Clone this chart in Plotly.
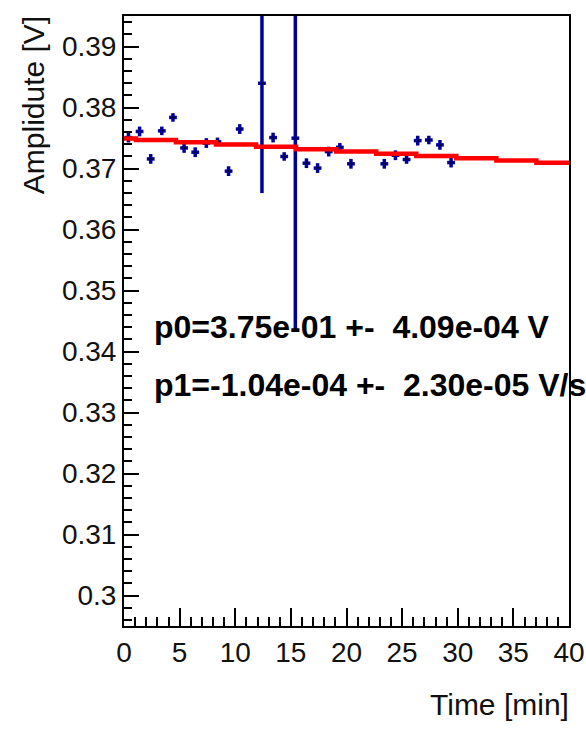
import numpy as np
import plotly.graph_objects as go

# Measured amplitude vs. time
time_min = [0.4, 1.4, 2.4, 3.4, 4.4, 5.4, 6.4, 7.4, 8.4, 9.4, 10.4,
            12.4, 13.4, 14.4, 15.4, 16.4, 17.4, 18.4, 19.4, 20.4,
            23.4, 24.4, 25.4, 26.4, 27.4, 28.4, 29.4]
amplitude_v = [0.3751, 0.3761, 0.3716, 0.3762, 0.3784, 0.3734, 0.3727, 0.3742, 0.3744, 0.3696, 0.3765,
               0.3840, 0.3751, 0.3720, 0.3750, 0.3709, 0.3701, 0.3728, 0.3735, 0.3708,
               0.3708, 0.3722, 0.3715, 0.3746, 0.3747, 0.3739, 0.3710]
amplitude_err = [0.0008, 0.0008, 0.0008, 0.0007, 0.0007, 0.0008, 0.0008, 0.0008, 0.0007, 0.0008, 0.0008,
                 0.0180, 0.0008, 0.0007, 0.0317, 0.0008, 0.0008, 0.0008, 0.0007, 0.0008,
                 0.0008, 0.0008, 0.0007, 0.0008, 0.0007, 0.0008, 0.0008]
time_err = [0.35] * len(time_min)

# Linear fit result: A(t) = p0 + p1 * t
p0, p0_err = 3.75e-01, 4.09e-04
p1, p1_err = -1.04e-04, 2.30e-05

x_ticks = [0, 5, 10, 15, 20, 25, 30, 35, 40]
y_ticks = [0.30, 0.31, 0.32, 0.33, 0.34, 0.35, 0.36, 0.37, 0.38, 0.39]
y_tick_text = ["0.3", "0.31", "0.32", "0.33", "0.34", "0.35", "0.36", "0.37", "0.38", "0.39"]

# Fit function drawn as a coarse polyline (stepped like a low-npx TF1)
edges = np.concatenate([[0.0], np.arange(1.07, 40.0, 3.6), [40.0]])
mids = 0.5 * (edges[:-1] + edges[1:])
fit_x = list(edges)
fit_y = list(p0 + p1 * mids) + [p0 + p1 * mids[-1]]

BLUE = "#000099"
FONT = "Liberation Sans, Arial, Helvetica, sans-serif"
SP2 = "&nbsp;&nbsp;"

fig = go.Figure()

fig.add_trace(go.Scatter(
    x=time_min, y=amplitude_v, mode="markers",
    marker=dict(color="black", size=2),
    error_y=dict(type="data", array=amplitude_err, color=BLUE, thickness=3.5, width=0),
    error_x=dict(type="data", array=time_err, color=BLUE, thickness=3.5, width=0),
    showlegend=False, hoverinfo="x+y",
))

fig.add_trace(go.Scatter(
    x=fit_x, y=fit_y, mode="lines", line=dict(color="#ff0000", width=4.5, shape="hv"),
    showlegend=False, hoverinfo="skip",
))

fig.add_annotation(
    x=2.5, y=0.3441, xref="x", yref="y", xanchor="left", yanchor="middle",
    text=f"<b>p0={p0:.2e} +-{SP2}{p0_err:.2e} V</b>", showarrow=False,
    font=dict(family=FONT, size=32, color="black"),
)
fig.add_annotation(
    x=2.5, y=0.3346, xref="x", yref="y", xanchor="left", yanchor="middle",
    text=f"<b>p1={p1:.2e} +-{SP2}{p1_err:.2e} V/s</b>", showarrow=False,
    font=dict(family=FONT, size=32, color="black"),
)

# Axis titles, placed at the end of each axis
fig.add_annotation(
    xref="paper", yref="paper", x=1.0, y=-0.1285, xanchor="right", yanchor="middle",
    xshift=2, text="Time [min]", showarrow=False,
    font=dict(family=FONT, size=30, color="#111"),
)
fig.add_annotation(
    xref="paper", yref="paper", x=-0.204, y=1.0, yshift=2, xanchor="center", yanchor="top",
    text="Amplidute [V]", textangle=-90, showarrow=False,
    font=dict(family=FONT, size=30, color="#111"),
)

fig.update_xaxes(
    range=[0, 40], tickvals=x_ticks, ticktext=[str(v) for v in x_ticks],
    ticks="inside", ticklen=18, tickwidth=2, tickcolor="black",
    minor=dict(ticks="inside", ticklen=9, tickwidth=2, tickcolor="black", dtick=1),
    showline=True, linecolor="black", linewidth=2, mirror=True,
    showgrid=False, zeroline=False, automargin=False,
    tickfont=dict(family=FONT, size=28, color="#111"),
)
fig.update_yaxes(
    range=[0.29503, 0.39503], tickvals=y_ticks, ticktext=y_tick_text,
    ticks="inside", ticklen=15, tickwidth=2, tickcolor="black",
    minor=dict(ticks="inside", ticklen=8, tickwidth=2, tickcolor="black", dtick=0.002, tick0=0.3),
    showline=True, linecolor="black", linewidth=2, mirror=True,
    showgrid=False, zeroline=False, automargin=False,
    tickfont=dict(family=FONT, size=28, color="#111"),
)

fig.update_layout(
    width=586, height=729,
    margin=dict(l=124, r=17, t=16, b=103),
    paper_bgcolor="white", plot_bgcolor="white",
)

fig.write_html("out.html")
